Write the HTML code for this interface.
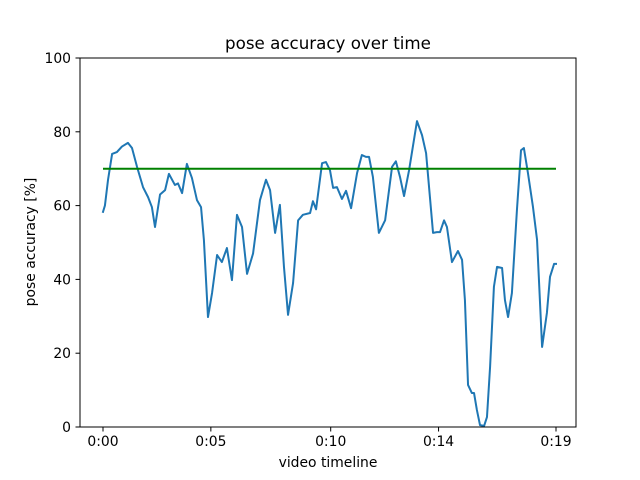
<!DOCTYPE html>
<html><head><meta charset="utf-8"><style>
body{margin:0;background:#fff;}
svg{display:block;font-family:"DejaVu Sans","Liberation Sans",sans-serif;}
</style></head><body>
<svg id="chart" width="640" height="480">
<rect x="0" y="0" width="640" height="480" fill="#fff"/>
<text x="328" y="49" text-anchor="middle" font-size="16.7">pose accuracy over time</text>
<text x="328" y="467" text-anchor="middle" font-size="13.9">video timeline</text>
<text transform="translate(35,242) rotate(-90)" text-anchor="middle" font-size="13.9">pose accuracy [%]</text>
<g id="plot"></g>
<rect x="80" y="58" width="496" height="369" fill="none" stroke="#000" stroke-width="1"/>
</svg>
<script>
const frames=[0,0.8,2.1,3.8,5.8,7.9,10.4,12.1,14.2,16.7,18.8,20.4,21.7,23.8,25.9,27.5,30,31.3,33,35,37.1,39.2,40.9,42.1,43.8,45.5,47.6,49.6,51.7,53.8,55.9,58,60.1,62.6,65.5,68,69.7,71.8,73.8,75.5,77.2,79.3,81.4,83.4,86.4,87.6,88.9,91.4,93,94.7,96,97.6,99.7,101.4,103.5,106,108,109.7,111,112.6,115.1,117.7,120.6,122.2,123.9,125.6,127.7,131,133.1,134.8,136.4,137.7,139.3,140.6,142.3,143.5,145.6,148.1,149.8,151,152.3,153.9,154.8,156,157.3,159,160.2,161.5,163.1,164.4,166.5,167.7,169,170.6,172.7,174.4,175.6,177.3,179.4,181.1,183.2,185.2,186.5,188.2,189];
const accuracy=[58.3,60,67,74,74.5,76,77,75.6,70.5,65,62.3,59.6,54.2,63,64.2,68.6,65.6,66,63.4,71.3,67.5,61.5,59.6,50.7,29.8,36.3,46.6,44.7,48.5,39.8,57.5,54.2,41.5,47,61.5,67,64.2,52.6,60.2,43.4,30.4,39,56,57.5,58,61.2,59,71.5,71.8,69.6,64.8,65,61.8,64,59.3,68.8,73.7,73.2,73.2,67.8,52.6,56,70.5,72,67.8,62.6,69.6,82.9,79.1,74.2,62.3,52.6,52.8,52.8,56,54.2,44.7,47.7,45.3,34.4,11.4,9.2,9.2,4.6,0.5,0.3,2.7,16.3,38,43.4,43.1,34.4,29.8,36.3,58.8,75,75.6,68.8,59.6,50.7,21.7,30.9,40.7,44.2,44.2];
const threshold=[70,70];
const thresholdFrames=[0,189];
const xTickValues=[0,45,95,140,189];
const xTickLabels=["0:00","0:05","0:10","0:14","0:19"];
const yTickValues=[0,20,40,60,80,100];
const NS="http://www.w3.org/2000/svg";
const plot=document.getElementById('plot');
function xs(f){return 103+f*(453/189);}
function ys(v){return 427-v*3.69;}
function mk(t,a){const e=document.createElementNS(NS,t);for(const k in a)e.setAttribute(k,a[k]);plot.appendChild(e);return e;}
xTickValues.forEach((v,i)=>{
 const l=mk('line',{x1:xs(v),x2:xs(v),y1:427,y2:431.5,stroke:'#000'});
 
 
 const t=mk('text',{x:xs(v),y:446,'text-anchor':'middle','font-size':13.9});
 t.textContent=xTickLabels[i];
 
 
});
yTickValues.forEach(v=>{
 const l=mk('line',{x1:75.5,x2:80,y1:ys(v),y2:ys(v),stroke:'#000'});
 
 
 const t=mk('text',{x:71,y:ys(v)+5,'text-anchor':'end','font-size':13.9});
 t.textContent=v;
 
 
});
const p=mk('polyline',{points:frames.map((f,i)=>xs(f)+','+ys(accuracy[i])).join(' '),fill:'none',stroke:'#1f77b4','stroke-width':2,'stroke-linejoin':'round','stroke-linecap':'square'});


const g=mk('polyline',{points:thresholdFrames.map((f,i)=>xs(f)+','+ys(threshold[i])).join(' '),fill:'none',stroke:'#008000','stroke-width':2});


</script>
</body></html>
